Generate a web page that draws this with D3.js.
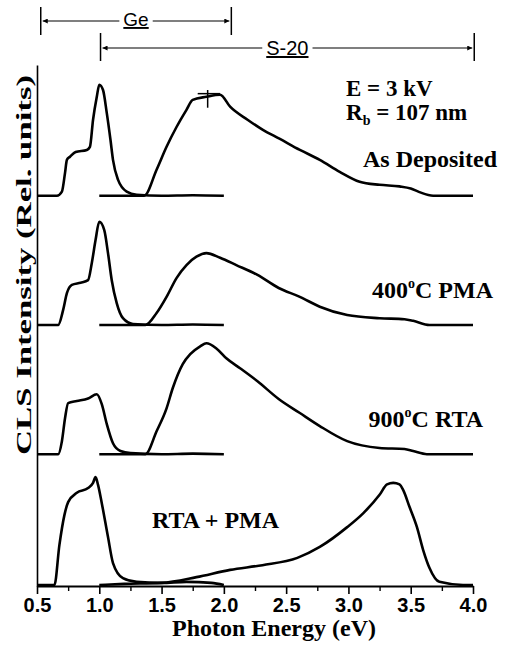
<!DOCTYPE html>
<html>
<head>
<meta charset="utf-8">
<script src="https://cdn.jsdelivr.net/npm/d3@7"></script>
<style>
  html, body { margin: 0; padding: 0; background: #fff; }
  svg { display: block; }
</style>
</head>
<body>
<script>
// ---------------- DATA ----------------
const xTicks = [0.5, 1.0, 1.5, 2.0, 2.5, 3.0, 3.5, 4.0];
const xMinorTicks = [0.75, 1.25, 1.75, 2.25, 2.75, 3.25, 3.75];
const sampleNames = ["As Deposited", "400°C PMA", "900°C RTA", "RTA + PMA"];
const sampleOffsets = [7.49, 5.01, 2.53, 0.02];

// Ge detector spectra [eV, rel. intensity above baseline]
const ge1 = [[0.50,0],[0.66,0],[0.70,0.08],[0.725,0.44],[0.74,0.69],[0.765,0.75],[0.81,0.84],[0.90,0.88],[0.925,0.94],[0.95,1.46],[0.98,1.90],[1.00,2.13],[1.03,2.03],[1.06,1.59],[1.09,1.07],[1.11,0.69],[1.15,0.31],[1.22,0.08],[1.30,0.02],[1.50,0],[1.75,0.01],[2.00,0]];
const ge2 = [[0.50,0],[0.67,0],[0.71,0.29],[0.74,0.61],[0.78,0.77],[0.85,0.81],[0.91,0.86],[0.94,1.19],[0.97,1.63],[1.00,1.98],[1.04,1.82],[1.07,1.38],[1.10,0.86],[1.14,0.42],[1.19,0.13],[1.27,0.02],[1.50,0],[1.75,0.01],[2.00,0]];
const ge3 = [[0.50,0],[0.67,0],[0.70,0.25],[0.725,0.69],[0.75,0.98],[0.82,1.02],[0.91,1.07],[0.98,1.15],[1.02,0.96],[1.06,0.58],[1.11,0.21],[1.17,0.06],[1.25,0.02],[1.50,0],[1.75,0.01],[2.00,0]];
const ge4 = [[0.50,0],[0.64,0],[0.68,0.77],[0.72,1.34],[0.75,1.59],[0.82,1.77],[0.91,1.86],[0.95,1.96],[0.97,2.07],[0.99,1.92],[1.02,1.57],[1.07,0.92],[1.11,0.42],[1.19,0.13],[1.30,0.06],[1.50,0.04],[1.70,0.06],[1.90,0.04],[2.00,0]];

// S-20 photomultiplier spectra
const s1 = [[1.00,0],[1.36,0],[1.46,0.50],[1.54,0.94],[1.62,1.32],[1.70,1.65],[1.75,1.84],[1.86,1.90],[1.97,1.94],[2.05,1.71],[2.19,1.46],[2.31,1.27],[2.45,1.09],[2.61,0.88],[2.77,0.69],[2.93,0.46],[3.09,0.27],[3.25,0.21],[3.41,0.18],[3.50,0.14],[3.57,0.07],[3.68,0],[4.00,0]];
const s2 = [[1.00,0],[1.37,0],[1.46,0.23],[1.54,0.54],[1.62,0.90],[1.70,1.15],[1.78,1.31],[1.86,1.38],[1.97,1.29],[2.10,1.15],[2.27,0.96],[2.44,0.71],[2.61,0.54],[2.77,0.35],[2.99,0.19],[3.25,0.13],[3.45,0.11],[3.52,0.08],[3.65,0],[4.00,0]];
const s3 = [[1.00,0],[1.37,0],[1.46,0.44],[1.54,0.88],[1.59,1.27],[1.67,1.73],[1.73,1.92],[1.81,2.07],[1.86,2.13],[1.94,2.03],[2.02,1.84],[2.13,1.65],[2.27,1.40],[2.44,1.06],[2.61,0.79],[2.77,0.54],[2.99,0.25],[3.25,0.12],[3.45,0.10],[3.52,0.06],[3.63,0],[4.00,0]];
const s4 = [[1.00,0],[1.20,0.02],[1.50,0.04],[1.78,0.15],[2.05,0.29],[2.31,0.38],[2.59,0.52],[2.77,0.73],[2.99,1.11],[3.12,1.38],[3.25,1.73],[3.31,1.93],[3.36,1.96],[3.41,1.93],[3.44,1.82],[3.49,1.50],[3.55,1.11],[3.60,0.67],[3.65,0.33],[3.73,0.06],[3.92,0],[4.00,0]];

const geSeries = [ge1, ge2, ge3, ge4];
const s20Series = [s1, s2, s3, s4];

// error-bar cross on the as-deposited S-20 peak: [eV, low, high, xLow, xHigh, yMid]
const errorBar = [1.87, 1.69, 2.03, 1.79, 1.97, 1.96];

// detector ranges (eV)
const geRange = [0.53, 2.06];
const s20Range = [1.01, 4.01];

// ---------------- CHART ----------------
const W = 511, H = 646;
const svg = d3.select("body").append("svg").attr("width", W).attr("height", H)
  .style("background", "#fff");

const x = d3.scaleLinear().domain([0.5, 4.0]).range([37, 473]);
const y = d3.scaleLinear().domain([0, 10]).range([586, 65]);

const serif = "'Liberation Serif', 'Times New Roman', serif";
const sans = "'Liberation Sans', Arial, sans-serif";

// axes
const xAxis = svg.append("g").attr("transform", `translate(0,${y(0)})`)
  .call(d3.axisBottom(x).tickValues(xTicks).tickSize(8).tickPadding(4).tickSizeOuter(0)
    .tickFormat(d3.format(".1f")));
xAxis.select(".domain").attr("stroke-width", 2);
xAxis.selectAll(".tick line").attr("stroke-width", 1.6);
xAxis.selectAll(".tick text").attr("font-family", sans).attr("font-weight", "bold")
  .attr("font-size", 20).attr("fill", "#000");

const xMinor = svg.append("g").attr("transform", `translate(0,${y(0)})`)
  .call(d3.axisBottom(x).tickValues(xMinorTicks).tickSize(5).tickFormat("").tickSizeOuter(0));
xMinor.select(".domain").remove();
xMinor.selectAll(".tick line").attr("stroke-width", 1.4);

const yAxis = svg.append("g").attr("transform", `translate(${x(0.5)},0)`)
  .call(d3.axisLeft(y).tickValues([]).tickSizeOuter(0));
yAxis.select(".domain").attr("stroke-width", 1.6);

// axis titles
svg.append("text").attr("x", 274).attr("y", 636).attr("text-anchor", "middle")
  .attr("font-family", serif).attr("font-weight", "bold").attr("font-size", 24)
  .text("Photon Energy (eV)");

svg.append("text").attr("transform", "translate(31,265) rotate(-90)")
  .attr("text-anchor", "middle")
  .attr("font-family", serif).attr("font-weight", "bold").attr("font-size", 20)
  .attr("textLength", 380).attr("lengthAdjust", "spacingAndGlyphs")
  .text("CLS Intensity (Rel. units)");

// curves
const line = d3.line().x(d => x(d[0])).curve(d3.curveMonotoneX);
sampleOffsets.forEach((off, i) => {
  line.y(d => y(d[1] + off));
  svg.append("path").datum(geSeries[i]).attr("d", line)
    .attr("fill", "none").attr("stroke", "#000").attr("stroke-width", 2.6)
    .attr("stroke-linejoin", "round");
  svg.append("path").datum(s20Series[i]).attr("d", line)
    .attr("fill", "none").attr("stroke", "#000").attr("stroke-width", 2.6)
    .attr("stroke-linejoin", "round");
});

// error bar cross
{
  const off = sampleOffsets[0];
  const [ex, lo, hi, xl, xh, ym] = errorBar;
  svg.append("line").attr("x1", x(ex)).attr("x2", x(ex)).attr("y1", y(lo + off)).attr("y2", y(hi + off))
    .attr("stroke", "#000").attr("stroke-width", 1.5);
  svg.append("line").attr("x1", x(xl)).attr("x2", x(xh)).attr("y1", y(ym + off)).attr("y2", y(ym + off))
    .attr("stroke", "#000").attr("stroke-width", 1.5);
}

// arrow markers
const defs = svg.append("defs");
defs.append("marker").attr("id", "ah").attr("viewBox", "0 0 10 10")
  .attr("refX", 10).attr("refY", 5).attr("markerWidth", 9).attr("markerHeight", 5)
  .attr("markerUnits", "userSpaceOnUse").attr("orient", "auto")
  .append("path").attr("d", "M0,0 L10,5 L0,10 z").attr("fill", "#000");

function rangeArrow(range, yLine, yTop, yBot, label, fontSize, textBase) {
  const x0 = x(range[0]), x1 = x(range[1]);
  const g = svg.append("g");
  g.append("line").attr("x1", x0).attr("x2", x0).attr("y1", yTop).attr("y2", yBot)
    .attr("stroke", "#000").attr("stroke-width", 1.5);
  g.append("line").attr("x1", x1).attr("x2", x1).attr("y1", yTop).attr("y2", yBot)
    .attr("stroke", "#000").attr("stroke-width", 1.5);
  const cx = (x0 + x1) / 2;
  const t = g.append("text").attr("x", cx).attr("y", textBase).attr("text-anchor", "middle")
    .attr("font-family", sans).attr("font-size", fontSize).attr("text-decoration", "underline")
    .text(label);
  const tw = t.node().getComputedTextLength();
  g.append("line").attr("x1", cx - tw / 2 - 4).attr("x2", x0 + 2).attr("y1", yLine).attr("y2", yLine)
    .attr("stroke", "#000").attr("stroke-width", 1.2).attr("marker-end", "url(#ah)");
  g.append("line").attr("x1", cx + tw / 2 + 4).attr("x2", x1 - 2).attr("y1", yLine).attr("y2", yLine)
    .attr("stroke", "#000").attr("stroke-width", 1.2).attr("marker-end", "url(#ah)");
}
rangeArrow(geRange, 21, 7, 35, "Ge", 19, 26);
rangeArrow(s20Range, 48, 33, 61, "S-20", 20, 55);

// annotations
const ann = svg.append("g").attr("font-family", serif).attr("font-weight", "bold").attr("fill", "#000");
ann.append("text").attr("x", 346).attr("y", 96).attr("font-size", 23).text("E = 3 kV");
const rb = ann.append("text").attr("x", 346).attr("y", 120).attr("font-size", 23);
rb.append("tspan").text("R");
rb.append("tspan").attr("font-size", 14).attr("dy", 5).text("b");
rb.append("tspan").attr("dy", -5).text(" = 107 nm");

ann.append("text").attr("x", 497).attr("y", 167).attr("text-anchor", "end").attr("font-size", 24)
  .text(sampleNames[0]);

function degLabel(xEnd, yb, pre, post) {
  const t = ann.append("text").attr("x", xEnd).attr("y", yb).attr("text-anchor", "end").attr("font-size", 24);
  t.append("tspan").text(pre);
  t.append("tspan").attr("font-size", 14).attr("dy", -10).text("o");
  t.append("tspan").attr("dy", 10).text(post);
}
degLabel(493, 298, "400", "C PMA");
degLabel(483, 427, "900", "C RTA");
ann.append("text").attr("x", 152).attr("y", 528).attr("font-size", 24).text(sampleNames[3]);
</script>
</body>
</html>
